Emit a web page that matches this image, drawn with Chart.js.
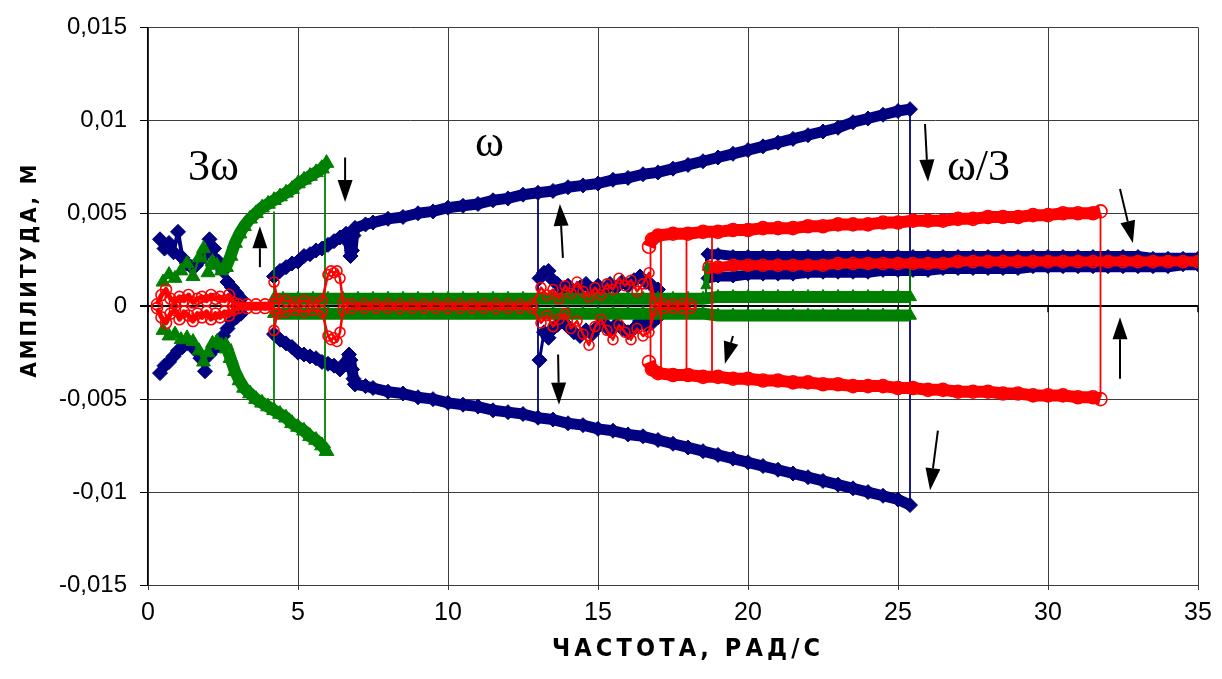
<!DOCTYPE html>
<html>
<head>
<meta charset="utf-8">
<title>Амплитуда - частота</title>
<script src="https://cdn.jsdelivr.net/npm/chart.js@4.4.1/dist/chart.umd.min.js"></script>
<style>
  html, body { margin: 0; padding: 0; background: #fff; }
  #wrap { width: 1222px; height: 679px; }
</style>
</head>
<body>
<div id="wrap"><canvas id="chart" width="1222" height="679"></canvas></div>
<script>
// ticks
const xTicks = [0, 5, 10, 15, 20, 25, 30, 35];
const xTickLabels = ['0', '5', '10', '15', '20', '25', '30', '35'];
const yTicks = [-0.015, -0.01, -0.005, 0, 0.005, 0.01, 0.015];
const yTickLabels = ['-0,015', '-0,01', '-0,005', '0', '0,005', '0,01', '0,015'];
const xTitle = 'ЧАСТОТА, РАД/С';
const yTitle = 'АМПЛИТУДА, М';

// blue series (diamonds)
const blueLeftX = [0.4, 0.55, 0.7, 0.85, 1.0, 1.15, 1.3, 1.45, 1.6, 1.75, 1.9, 2.05, 2.2, 2.35, 2.5, 2.65, 2.8, 2.95, 3.1];
const blueLeftUpY = [0.0036, 0.0031, 0.0034, 0.0029, 0.0040, 0.0026, 0.0023, 0.0021, 0.0022, 0.0025, 0.0028, 0.0036, 0.0031, 0.0024, 0.0019, 0.0013, 0.0010, 0.0007, 0.0004];
const blueLeftLoY = [-0.0036, -0.0032, -0.0030, -0.0027, -0.0024, -0.0022, -0.0020, -0.0021, -0.0024, -0.0028, -0.0035, -0.0026, -0.0023, -0.0021, -0.0016, -0.0012, -0.0008, -0.0006, -0.0004];

const blueWigX = [4.2, 4.4, 4.6, 4.8, 5.0, 5.2, 5.4, 5.6, 5.8, 6.0, 6.2, 6.4, 6.6, 6.7, 6.75, 6.8, 6.85, 6.9];
const blueWigUpY = [0.0016, 0.0019, 0.0021, 0.0023, 0.0024, 0.0027, 0.0028, 0.0030, 0.0031, 0.0033, 0.0035, 0.0037, 0.0039, 0.0034, 0.0027, 0.0030, 0.0038, 0.0042];
const blueWigLoY = [-0.0015, -0.0018, -0.0020, -0.0022, -0.0025, -0.0026, -0.0027, -0.0028, -0.0030, -0.0031, -0.0032, -0.0034, -0.0030, -0.0026, -0.0029, -0.0034, -0.0039, -0.0042];

const blueMainX = [6.9, 7.25, 7.5, 8, 8.5, 9, 9.5, 10, 10.5, 11, 11.5, 12, 12.5, 13, 13.5, 14, 14.5, 15, 15.5, 16, 16.5, 17, 17.5, 18, 18.5, 19, 19.5, 20, 20.5, 21, 21.5, 22, 22.5, 23, 23.5, 24, 24.5, 25, 25.4];
const blueMainUpY = [0.0042, 0.0044, 0.0045, 0.0047, 0.0048, 0.0050, 0.0051, 0.0053, 0.0054, 0.0055, 0.0057, 0.0058, 0.0060, 0.0061, 0.0062, 0.0064, 0.0065, 0.0066, 0.0068, 0.0069, 0.0071, 0.0072, 0.0074, 0.0076, 0.0078, 0.0080, 0.0082, 0.0084, 0.0086, 0.0088, 0.0090, 0.0092, 0.0094, 0.0096, 0.0099, 0.0101, 0.0103, 0.0105, 0.0106];
const blueMainLoY = [-0.0042, -0.0043, -0.0044, -0.0046, -0.0047, -0.0049, -0.0050, -0.0052, -0.0053, -0.0054, -0.0056, -0.0057, -0.0058, -0.0060, -0.0061, -0.0063, -0.0064, -0.0066, -0.0067, -0.0069, -0.0070, -0.0072, -0.0074, -0.0076, -0.0078, -0.0080, -0.0082, -0.0084, -0.0086, -0.0088, -0.0090, -0.0092, -0.0094, -0.0096, -0.0098, -0.0100, -0.0102, -0.0104, -0.0107];

const blueChaosX = [13.05, 13.2, 13.35, 13.5, 13.65, 13.8, 14.0, 14.2, 14.4, 14.6, 14.8, 15.0, 15.2, 15.4, 15.6, 15.8, 16.0, 16.2, 16.4, 16.6, 16.8, 17.0];
const blueChaosUpY = [0.0015, 0.0018, 0.0019, 0.0014, 0.0012, 0.0009, 0.0011, 0.0008, 0.0010, 0.0012, 0.0009, 0.0011, 0.0008, 0.0012, 0.0010, 0.0013, 0.0011, 0.0014, 0.0016, 0.0013, 0.0011, 0.0009];
const blueChaosLoY = [-0.0029, -0.0014, -0.0017, -0.0012, -0.0010, -0.0008, -0.0011, -0.0014, -0.0016, -0.0013, -0.0015, -0.0011, -0.0009, -0.0013, -0.0010, -0.0012, -0.0014, -0.0012, -0.0008, -0.0010, -0.0009, -0.0006];

const blueSubX = [18.65, 19, 19.5, 20, 20.5, 21, 21.5, 22, 22.5, 23, 23.5, 24, 24.5, 25, 25.5, 26, 26.5, 27, 27.5, 28, 28.5, 29, 29.5, 30, 30.5, 31, 31.5, 32, 32.5, 33, 33.5, 34, 34.5, 35];
const blueSubTopY = [0.0028, 0.0028, 0.0027, 0.0027, 0.0027, 0.0027, 0.0027, 0.0027, 0.0027, 0.0027, 0.0027, 0.0027, 0.0027, 0.0027, 0.0027, 0.0027, 0.0027, 0.0027, 0.0027, 0.0027, 0.0027, 0.0027, 0.0027, 0.0027, 0.0027, 0.0027, 0.0027, 0.0027, 0.0027, 0.0027, 0.0026, 0.0026, 0.0026, 0.0026];
const blueSubBotY = [0.0015, 0.0016, 0.0016, 0.0017, 0.0017, 0.0017, 0.0017, 0.0018, 0.0018, 0.0018, 0.0018, 0.0018, 0.0019, 0.0019, 0.0019, 0.0019, 0.0020, 0.0020, 0.0020, 0.0020, 0.0020, 0.0020, 0.0021, 0.0021, 0.0021, 0.0021, 0.0021, 0.0021, 0.0021, 0.0021, 0.0021, 0.0021, 0.0022, 0.0022];

const blueJumpX = [13.0, 18.6, 25.4];
const blueJumpTopY = [0.0061, 0.0027, 0.0106];
const blueJumpBotY = [-0.0060, 0.0004, -0.0107];

// green series (triangles)
const greenLeftX = [0.5, 0.7, 0.9, 1.1, 1.3, 1.5, 1.7, 1.85, 2.0, 2.15, 2.3, 2.45, 2.6];
const greenLeftUpY = [0.0013, 0.0017, 0.0015, 0.0019, 0.0023, 0.0016, 0.0026, 0.0031, 0.0018, 0.0024, 0.0022, 0.0019, 0.0021];
const greenLeftLoY = [-0.0013, -0.0016, -0.0015, -0.0018, -0.0017, -0.0019, -0.0024, -0.0030, -0.0025, -0.0020, -0.0019, -0.0021, -0.0023];

const greenArcX = [2.6, 2.75, 2.9, 3.05, 3.2, 3.4, 3.6, 3.8, 4.0, 4.2, 4.4, 4.6, 4.8, 5.0, 5.2, 5.4, 5.6, 5.8, 5.95];
const greenArcUpY = [0.0021, 0.0027, 0.0034, 0.0039, 0.0043, 0.0047, 0.0050, 0.0053, 0.0055, 0.0057, 0.0059, 0.0061, 0.0063, 0.0066, 0.0068, 0.0070, 0.0072, 0.0074, 0.0077];
const greenArcLoY = [-0.0021, -0.0028, -0.0035, -0.0040, -0.0044, -0.0047, -0.0050, -0.0052, -0.0054, -0.0056, -0.0058, -0.0060, -0.0063, -0.0065, -0.0067, -0.0070, -0.0072, -0.0075, -0.0078];

const greenBandX = [4.2, 4.5, 5, 5.5, 6, 6.5, 7, 7.5, 8, 8.5, 9, 9.5, 10, 10.5, 11, 11.5, 12, 12.5, 13, 13.5, 14, 14.5, 15, 15.5, 16, 16.5, 17, 17.5, 18, 18.5, 19, 19.5, 20, 20.5, 21, 21.5, 22, 22.5, 23, 23.5, 24, 24.5, 25, 25.4];
const greenBandUpY = [0.0004, 0.0004, 0.0004, 0.0004, 0.0004, 0.0004, 0.0004, 0.0004, 0.0004, 0.0004, 0.0004, 0.0004, 0.0004, 0.0004, 0.0004, 0.0004, 0.0004, 0.0004, 0.0004, 0.0004, 0.0004, 0.0004, 0.0004, 0.0004, 0.0004, 0.0004, 0.0004, 0.0004, 0.0004, 0.0004, 0.0005, 0.0005, 0.0005, 0.0005, 0.0005, 0.0005, 0.0005, 0.0005, 0.0005, 0.0005, 0.0005, 0.0005, 0.0005, 0.0005];
const greenBandLoY = [-0.0004, -0.0004, -0.0004, -0.0004, -0.0004, -0.0004, -0.0004, -0.0004, -0.0004, -0.0004, -0.0004, -0.0004, -0.0004, -0.0004, -0.0004, -0.0004, -0.0004, -0.0004, -0.0004, -0.0004, -0.0004, -0.0004, -0.0004, -0.0004, -0.0004, -0.0004, -0.0004, -0.0004, -0.0004, -0.0004, -0.0005, -0.0005, -0.0005, -0.0005, -0.0005, -0.0005, -0.0005, -0.0005, -0.0005, -0.0005, -0.0005, -0.0005, -0.0005, -0.0005];

const greenSubX = [18.6, 18.65, 19, 19.5, 20, 21, 22, 23, 24, 25, 25.4, 26, 27, 28, 29, 30, 31, 32, 33, 34, 35];
const greenSubY = [0.0011, 0.0021, 0.0021, 0.0021, 0.0021, 0.0022, 0.0022, 0.0022, 0.0022, 0.0023, 0.0023, 0.0023, 0.0023, 0.0024, 0.0024, 0.0024, 0.0024, 0.0024, 0.0024, 0.0024, 0.0024];

const greenJumpX = [4.2, 5.9, 18.6, 25.4];
const greenJumpTopY = [0.0051, 0.0072, 0.0023, 0.0022];
const greenJumpBotY = [-0.0052, -0.0076, 0.0005, -0.0005];

// red series (open circles)
const redLeftX = [0.3, 0.45, 0.6, 0.75, 0.9, 1.05, 1.2, 1.35, 1.5, 1.65, 1.8, 1.95, 2.1, 2.25, 2.4, 2.55, 2.7, 2.85, 3.0, 3.3, 3.6, 3.9, 4.2];
const redLeftUpY = [0.0001, 0.0006, 0.0009, 0.0004, 0.0002, 0.0005, 0.0003, 0.0006, 0.0002, 0.0004, 0.0005, 0.0003, 0.0006, 0.0004, 0.0005, 0.0003, 0.0006, 0.0002, 0.0001, 0.0001, 0.0001, 0.0001, 0.0001];
const redLeftLoY = [-0.0001, -0.0006, -0.0009, -0.0004, -0.0002, -0.0007, -0.0003, -0.0005, -0.0008, -0.0004, -0.0006, -0.0003, -0.0007, -0.0004, -0.0006, -0.0003, -0.0005, -0.0002, -0.0001, -0.0001, -0.0001, -0.0001, -0.0001];

const redMidX = [4.2, 4.3, 4.6, 4.9, 5.2, 5.5, 5.8, 6.0, 6.1, 6.2, 6.3, 6.4, 6.5, 6.8, 7.2, 7.6, 8.0, 8.4, 8.8, 9.2, 9.6, 10.0, 10.4, 10.8, 11.2, 11.6, 12.0, 12.4, 12.8, 13.1, 13.3, 13.5, 13.7, 13.9, 14.1, 14.3, 14.5, 14.7, 14.9, 15.1, 15.3, 15.5, 15.7, 15.9, 16.1, 16.3, 16.5, 16.7, 16.9, 17.2, 17.5, 17.8, 18.1];
const redMidUpY = [0.0013, 0.0004, 0.0003, 0.0002, 0.0003, 0.0002, 0.0003, 0.0017, 0.0019, 0.0018, 0.0019, 0.0015, 0.0002, 0.0001, 0.0001, 0.0001, 0.0001, 0.0001, 0.0001, 0.0001, 0.0001, 0.0001, 0.0001, 0.0001, 0.0001, 0.0001, 0.0001, 0.0001, 0.0001, 0.0010, 0.0006, 0.0009, 0.0004, 0.0011, 0.0007, 0.0013, 0.0008, 0.0005, 0.0010, 0.0006, 0.0012, 0.0009, 0.0015, 0.0011, 0.0014, 0.0008, 0.0012, 0.0018, 0.0002, 0.0001, 0.0001, 0.0001, 0.0001];
const redMidLoY = [-0.0013, -0.0004, -0.0003, -0.0002, -0.0003, -0.0002, -0.0003, -0.0016, -0.0018, -0.0017, -0.0019, -0.0014, -0.0002, -0.0001, -0.0001, -0.0001, -0.0001, -0.0001, -0.0001, -0.0001, -0.0001, -0.0001, -0.0001, -0.0001, -0.0001, -0.0001, -0.0001, -0.0001, -0.0001, -0.0009, -0.0005, -0.0011, -0.0007, -0.0004, -0.0012, -0.0008, -0.0015, -0.0021, -0.0011, -0.0007, -0.0013, -0.0018, -0.0010, -0.0014, -0.0018, -0.0012, -0.0016, -0.0014, -0.0002, -0.0001, -0.0001, -0.0001, -0.0001];

const redBigX = [16.7, 16.8, 17.0, 17.5, 18, 18.5, 19, 19.5, 20, 20.5, 21, 21.5, 22, 22.5, 23, 23.5, 24, 24.5, 25, 25.5, 26, 26.5, 27, 27.5, 28, 28.5, 29, 29.5, 30, 30.5, 31, 31.5, 31.75];
const redBigUpY = [0.0032, 0.0036, 0.0038, 0.0039, 0.0039, 0.0040, 0.0040, 0.0041, 0.0041, 0.0042, 0.0042, 0.0042, 0.0043, 0.0043, 0.0044, 0.0044, 0.0044, 0.0045, 0.0045, 0.0046, 0.0046, 0.0046, 0.0047, 0.0047, 0.0048, 0.0048, 0.0048, 0.0049, 0.0049, 0.0050, 0.0050, 0.0050, 0.0051];
const redBigLoY = [-0.0030, -0.0034, -0.0036, -0.0037, -0.0037, -0.0038, -0.0038, -0.0039, -0.0039, -0.0040, -0.0040, -0.0041, -0.0041, -0.0042, -0.0042, -0.0043, -0.0043, -0.0043, -0.0044, -0.0044, -0.0045, -0.0045, -0.0046, -0.0046, -0.0046, -0.0047, -0.0047, -0.0048, -0.0048, -0.0048, -0.0049, -0.0049, -0.0050];

const redSubX = [18.7, 19, 19.5, 20, 20.5, 21, 21.5, 22, 22.5, 23, 23.5, 24, 24.5, 25, 25.5, 26, 26.5, 27, 27.5, 28, 28.5, 29, 29.5, 30, 30.5, 31, 31.5, 32, 32.5, 33, 33.5, 34, 34.5, 35];
const redSubY = [0.0021, 0.0021, 0.0022, 0.0022, 0.0022, 0.0022, 0.0022, 0.0022, 0.0022, 0.0023, 0.0023, 0.0023, 0.0023, 0.0023, 0.0023, 0.0023, 0.0023, 0.0024, 0.0024, 0.0024, 0.0024, 0.0024, 0.0024, 0.0024, 0.0024, 0.0024, 0.0024, 0.0024, 0.0024, 0.0024, 0.0024, 0.0024, 0.0024, 0.0024];

const redJumpX = [16.75, 17.1, 17.95, 18.8, 31.75];
const redJumpTopY = [0.0036, 0.0038, 0.0039, 0.0039, 0.0050];
const redJumpBotY = [-0.0036, -0.0036, -0.0037, -0.0037, -0.0049];

// annotations in data units
const notes = [['3ω', 1.33, 0.0068], ['ω', 10.9, 0.0081], ['ω/3', 26.63, 0.0068]];
const arrows = [
  [3.73, 0.0021, 3.73, 0.0043],
  [6.57, 0.0080, 6.57, 0.0056],
  [13.83, 0.0026, 13.73, 0.0055],
  [13.67, -0.0026, 13.7, -0.0053],
  [19.5, -0.0016, 19.23, -0.0031],
  [25.9, 0.0098, 26.0, 0.0067],
  [32.4, 0.0063, 32.83, 0.0034],
  [32.4, -0.0039, 32.4, -0.0006],
  [26.33, -0.0067, 26.07, -0.0099]
];

const BLUE = '#000080', GREEN = '#008000', RED = '#ff0000';

const pts = (xs, ys) => xs.map((x, i) => ({ x: x, y: ys[i] }));

function series(xs, ys, color, shape, r, lw, order) {
  const open = shape === 'circle';
  return {
    data: pts(xs, ys),
    showLine: true,
    borderColor: color,
    borderWidth: lw,
    borderJoinStyle: 'round',
    pointStyle: shape,
    pointRadius: r,
    pointBackgroundColor: open ? 'rgba(0,0,0,0)' : color,
    pointBorderColor: color,
    pointBorderWidth: open ? 1.6 : 1,
    tension: 0,
    order: order
  };
}

function jumps(xs, tops, bots, color, order) {
  return xs.map((x, i) => ({
    data: [{ x: x, y: tops[i] }, { x: x, y: bots[i] }],
    showLine: true,
    borderColor: color,
    borderWidth: 1.8,
    pointRadius: 0,
    order: order
  }));
}

const datasets = [
  series(redLeftX, redLeftUpY, RED, 'circle', 5.5, 5, 1),
  series(redLeftX, redLeftLoY, RED, 'circle', 5.5, 5, 1),
  series(redMidX, redMidUpY, RED, 'circle', 5, 2.5, 1),
  series(redMidX, redMidLoY, RED, 'circle', 5, 2.5, 1),
  series(redBigX, redBigUpY, RED, 'circle', 6.5, 12, 1),
  series(redBigX, redBigLoY, RED, 'circle', 6.5, 12, 1),
  series(redSubX, redSubY, RED, 'circle', 6, 10, 1),
  ...jumps(redJumpX, redJumpTopY, redJumpBotY, RED, 1),

  series(greenLeftX, greenLeftUpY, GREEN, 'triangle', 8, 2.5, 2),
  series(greenLeftX, greenLeftLoY, GREEN, 'triangle', 8, 2.5, 2),
  series(greenArcX, greenArcUpY, GREEN, 'triangle', 8.5, 12, 2),
  series(greenArcX, greenArcLoY, GREEN, 'triangle', 8.5, 12, 2),
  series(greenBandX, greenBandUpY, GREEN, 'triangle', 7.5, 12, 2),
  series(greenBandX, greenBandLoY, GREEN, 'triangle', 7.5, 12, 2),
  series(greenSubX, greenSubY, GREEN, 'triangle', 6, 6, 2),
  ...jumps(greenJumpX, greenJumpTopY, greenJumpBotY, GREEN, 2),

  series(blueLeftX, blueLeftUpY, BLUE, 'rectRot', 7.5, 4, 3),
  series(blueLeftX, blueLeftLoY, BLUE, 'rectRot', 7.5, 4, 3),
  series(blueWigX, blueWigUpY, BLUE, 'rectRot', 7.5, 11, 3),
  series(blueWigX, blueWigLoY, BLUE, 'rectRot', 7.5, 11, 3),
  series(blueMainX, blueMainUpY, BLUE, 'rectRot', 7.5, 11, 3),
  series(blueMainX, blueMainLoY, BLUE, 'rectRot', 7.5, 11, 3),
  series(blueChaosX, blueChaosUpY, BLUE, 'rectRot', 7.5, 3, 3),
  series(blueChaosX, blueChaosLoY, BLUE, 'rectRot', 7.5, 3, 3),
  series(blueSubX, blueSubTopY, BLUE, 'rectRot', 6.5, 10, 3),
  series(blueSubX, blueSubBotY, BLUE, 'rectRot', 6.5, 10, 3),
  ...jumps(blueJumpX, blueJumpTopY, blueJumpBotY, BLUE, 3)
];

function drawSpaced(ctx, text, cx, cy, width) {
  const chars = Array.from(text);
  const ws = chars.map(c => ctx.measureText(c).width);
  const total = ws.reduce((a, b) => a + b, 0);
  const gap = (width - total) / (chars.length - 1);
  let x = cx - width / 2;
  ctx.textAlign = 'left';
  ctx.textBaseline = 'middle';
  chars.forEach((c, i) => { ctx.fillText(c, x, cy); x += ws[i] + gap; });
}

function drawArrow(ctx, x1, y1, x2, y2) {
  const ang = Math.atan2(y2 - y1, x2 - x1);
  const len = Math.hypot(x2 - x1, y2 - y1);
  const head = Math.min(22, len * 0.8);
  const hw = 7.5;
  const bx = x2 - Math.cos(ang) * head, by = y2 - Math.sin(ang) * head;
  ctx.beginPath();
  ctx.moveTo(x1, y1);
  ctx.lineTo(bx, by);
  ctx.stroke();
  ctx.beginPath();
  ctx.moveTo(x2, y2);
  ctx.lineTo(bx + Math.sin(ang) * hw, by - Math.cos(ang) * hw);
  ctx.lineTo(bx - Math.sin(ang) * hw, by + Math.cos(ang) * hw);
  ctx.closePath();
  ctx.fill();
}

const extras = {
  id: 'extras',
  beforeDatasetsDraw(chart) {
    // small tick marks on the zero line
    const { ctx, scales: { x, y } } = chart;
    const y0 = y.getPixelForValue(0);
    ctx.save();
    ctx.strokeStyle = '#000';
    ctx.lineWidth = 1.5;
    xTicks.forEach(v => {
      const px = x.getPixelForValue(v);
      ctx.beginPath();
      ctx.moveTo(px, y0);
      ctx.lineTo(px, y0 + 6);
      ctx.stroke();
    });
    ctx.restore();
  },
  afterDraw(chart) {
    const { ctx, scales: { x, y } } = chart;
    ctx.save();
    ctx.fillStyle = '#000';
    ctx.strokeStyle = '#000';
    ctx.lineWidth = 2;
    arrows.forEach(a => drawArrow(ctx, x.getPixelForValue(a[0]), y.getPixelForValue(a[1]),
      x.getPixelForValue(a[2]), y.getPixelForValue(a[3])));

    ctx.font = "44px 'Liberation Serif', 'Times New Roman', serif";
    ctx.textAlign = 'left';
    ctx.textBaseline = 'alphabetic';
    notes.forEach(n => ctx.fillText(n[0], x.getPixelForValue(n[1]), y.getPixelForValue(n[2])));

    // axis titles
    ctx.font = "bold 25px 'Liberation Sans Narrow', 'DejaVu Sans Condensed', sans-serif";
    drawSpaced(ctx, xTitle, 686, 649, 268);
    ctx.translate(30, 271);
    ctx.rotate(-Math.PI / 2);
    ctx.font = "bold 22px 'Liberation Sans Narrow', 'DejaVu Sans Condensed', sans-serif";
    drawSpaced(ctx, yTitle, 0, 0, 213);
    ctx.restore();
  }
};

new Chart(document.getElementById('chart'), {
  type: 'scatter',
  data: { datasets: datasets },
  options: {
    responsive: false,
    animation: false,
    devicePixelRatio: 1,
    layout: { padding: { top: 18, right: 24, bottom: 0, left: 0 } },
    plugins: { legend: { display: false }, tooltip: { enabled: false } },
    scales: {
      x: {
        type: 'linear',
        min: 0,
        max: 35,
        afterBuildTicks: s => { s.ticks = xTicks.map(v => ({ value: v })); },
        afterFit: s => { s.height = 94; },
        ticks: {
          callback: (v, i) => xTickLabels[i],
          color: '#000',
          padding: 8,
          maxRotation: 0,
          font: { family: "'Liberation Sans Narrow', 'Arial Narrow', sans-serif", size: 25 }
        },
        grid: { color: '#3c3c3c', lineWidth: 1, tickLength: 5, tickColor: '#3c3c3c' },
        border: { color: '#3c3c3c', width: 1 }
      },
      y: {
        type: 'linear',
        min: -0.015,
        max: 0.015,
        afterBuildTicks: s => { s.ticks = yTicks.map(v => ({ value: v })); },
        afterFit: s => { s.width = 148; },
        ticks: {
          callback: (v, i) => yTickLabels[i],
          color: '#000',
          padding: 13,
          font: { family: "'Liberation Sans', Arial, sans-serif", size: 24 }
        },
        grid: {
          color: c => (c.tick && c.tick.value === 0 ? '#000' : '#3c3c3c'),
          lineWidth: c => (c.tick && c.tick.value === 0 ? 2 : 1),
          tickLength: 8,
          tickColor: '#000'
        },
        border: { color: '#000', width: 1.2 }
      }
    }
  },
  plugins: [extras]
});
</script>
</body>
</html>
